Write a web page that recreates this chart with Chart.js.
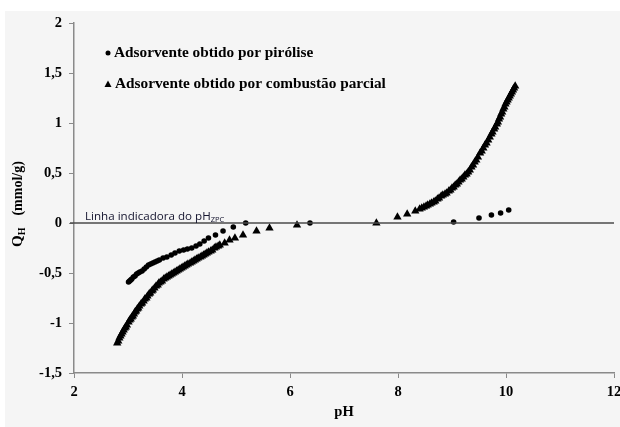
<!DOCTYPE html>
<html>
<head>
<meta charset="utf-8">
<script src="https://cdn.jsdelivr.net/npm/chart.js@4/dist/chart.umd.min.js"></script>
<style>
  body { margin: 0; background: #fff; }
  .fundo { position: absolute; left: 5px; top: 11px; width: 615px; height: 416px; background: #f5f5f5; }
  #grafico { position: absolute; left: 0; top: 0; }
</style>
</head>
<body>
<div class="fundo"></div>
<canvas id="grafico" width="620" height="427"></canvas>
<script>
// pH e Q_H
const phPirolise = [3.01, 3.03, 3.05, 3.07, 3.10, 3.13, 3.16, 3.19, 3.22, 3.26, 3.30, 3.34, 3.38, 3.42, 3.46, 3.50, 3.54, 3.58,
  3.65, 3.72, 3.80, 3.87, 3.95, 4.03, 4.10, 4.18, 4.26, 4.33, 4.41, 4.49, 4.62, 4.76, 4.95, 5.18, 6.37,
  9.03, 9.50, 9.73, 9.90, 10.05];
const qPirolise = [-0.59, -0.58, -0.57, -0.56, -0.54, -0.53, -0.51, -0.50, -0.49, -0.48, -0.46, -0.44, -0.42, -0.41, -0.40, -0.39, -0.38, -0.37,
  -0.35, -0.34, -0.32, -0.30, -0.28, -0.27, -0.26, -0.25, -0.23, -0.21, -0.18, -0.15, -0.12, -0.08, -0.04, 0.00, 0.00,
  0.01, 0.05, 0.08, 0.10, 0.13];

const phCombustao = [2.80, 2.82, 2.84, 2.86, 2.88, 2.90, 2.92, 2.94, 2.96, 2.98, 3.01, 3.03, 3.05, 3.07, 3.09, 3.11, 3.13, 3.15,
  3.17, 3.19, 3.21, 3.24, 3.26, 3.29, 3.31, 3.34, 3.36, 3.39, 3.41, 3.44, 3.46, 3.49, 3.52, 3.55, 3.57, 3.60, 3.63, 3.66,
  3.69, 3.72, 3.75, 3.78, 3.81, 3.84, 3.87, 3.90, 3.93, 3.96, 3.99, 4.02, 4.05, 4.08, 4.11, 4.15, 4.18, 4.21, 4.24, 4.27,
  4.30, 4.34, 4.37, 4.40, 4.43, 4.46, 4.49, 4.53, 4.56, 4.60, 4.63, 4.67, 4.70, 4.79, 4.88, 4.98, 5.13, 5.38, 5.62, 6.13,
  7.60, 7.99, 8.17, 8.32,
  8.40, 8.44, 8.48, 8.52, 8.55, 8.59, 8.62, 8.66, 8.69, 8.73, 8.76, 8.80, 8.83, 8.87, 8.90, 8.94, 8.97, 9.00, 9.03, 9.06,
  9.09, 9.12, 9.15, 9.18, 9.21, 9.24, 9.27, 9.30, 9.33, 9.36, 9.39, 9.42, 9.45, 9.48, 9.52, 9.55, 9.58, 9.61, 9.64, 9.67,
  9.70, 9.73, 9.75, 9.78, 9.80, 9.83, 9.85, 9.87, 9.89, 9.91, 9.93, 9.95, 9.97, 9.99, 10.01, 10.03, 10.05, 10.07, 10.09,
  10.11, 10.13, 10.15, 10.17];
const qCombustao = [-1.20, -1.18, -1.15, -1.13, -1.11, -1.09, -1.07, -1.05, -1.04, -1.02, -0.99, -0.97, -0.96, -0.94, -0.93, -0.91, -0.89, -0.88,
  -0.86, -0.85, -0.83, -0.81, -0.80, -0.78, -0.76, -0.75, -0.73, -0.71, -0.70, -0.68, -0.67, -0.65, -0.63, -0.62, -0.60, -0.59, -0.58, -0.56,
  -0.55, -0.54, -0.53, -0.52, -0.51, -0.50, -0.49, -0.48, -0.47, -0.46, -0.45, -0.44, -0.43, -0.42, -0.41, -0.40, -0.39, -0.38, -0.37, -0.36,
  -0.35, -0.34, -0.33, -0.32, -0.31, -0.30, -0.29, -0.28, -0.27, -0.25, -0.24, -0.23, -0.22, -0.20, -0.17, -0.15, -0.12, -0.08, -0.05, -0.02,
  0.00, 0.06, 0.09, 0.12,
  0.14, 0.15, 0.16, 0.17, 0.18, 0.19, 0.20, 0.21, 0.22, 0.24, 0.25, 0.27, 0.28, 0.29, 0.30, 0.32, 0.33, 0.35, 0.36, 0.38,
  0.39, 0.41, 0.43, 0.44, 0.46, 0.48, 0.49, 0.51, 0.53, 0.56, 0.58, 0.61, 0.63, 0.66, 0.70, 0.72, 0.75, 0.78, 0.80, 0.83,
  0.86, 0.89, 0.91, 0.94, 0.96, 0.99, 1.01, 1.04, 1.06, 1.09, 1.11, 1.14, 1.16, 1.19, 1.21, 1.23, 1.25, 1.27, 1.29,
  1.31, 1.33, 1.35, 1.37];

const legendas = ['Adsorvente obtido por pirólise', 'Adsorvente obtido por combustão parcial'];
const xMin = 2, xMax = 12, xPasso = 2;
const yMin = -1.5, yMax = 2, yPasso = 0.5;

const serif = '"Liberation Serif", "Times New Roman", serif';
const cinza = '#8a8a8a';

function pontos(xs, ys) {
  return xs.map(function (x, i) { return { x: x, y: ys[i] }; });
}

// linha do pH zpc, titulo do eixo y e legenda
const extras = {
  id: 'extras',
  afterDatasetsDraw(chart) {
    const ctx = chart.ctx;
    const area = chart.chartArea;
    const y0 = chart.scales.y.getPixelForValue(0);
    ctx.save();
    ctx.strokeStyle = '#4a4a4a';
    ctx.lineWidth = 1.5;
    ctx.beginPath();
    ctx.moveTo(area.left - 4, y0);
    ctx.lineTo(area.right, y0);
    ctx.stroke();

    ctx.fillStyle = '#14142e';
    ctx.font = '11.6px "Open Sans", "DejaVu Sans", sans-serif';
    ctx.textBaseline = 'alphabetic';
    ctx.fillText('Linha indicadora do pH', 85, y0 - 3);
    let w = ctx.measureText('Linha indicadora do pH').width;
    ctx.font = '7.5px "Open Sans", "DejaVu Sans", sans-serif';
    ctx.fillText('ZPC', 85 + w, y0 - 1);

    // titulo do eixo y
    ctx.fillStyle = '#000';
    ctx.translate(22, 247);
    ctx.rotate(-Math.PI / 2);
    ctx.font = 'bold 15px ' + serif;
    ctx.fillText('Q', 0, 0);
    let wq = ctx.measureText('Q').width;
    ctx.font = 'bold 10px ' + serif;
    ctx.fillText('H', wq, 3);
    let wh = ctx.measureText('H').width;
    ctx.font = 'bold 14px ' + serif;
    ctx.fillText('(mmol/g)', wq + wh + 12, 0);
    ctx.restore();

    // legenda
    ctx.save();
    ctx.fillStyle = '#000';
    ctx.font = 'bold 15.3px ' + serif;
    ctx.textBaseline = 'middle';
    ctx.beginPath();
    ctx.arc(108, 53, 2.5, 0, Math.PI * 2);
    ctx.fill();
    ctx.fillText(legendas[0], 114, 53);
    ctx.beginPath();
    ctx.moveTo(104.5, 87);
    ctx.lineTo(108, 80.5);
    ctx.lineTo(111.5, 87);
    ctx.closePath();
    ctx.fill();
    ctx.fillText(legendas[1], 115, 84);
    ctx.restore();
  }
};

const data = {
  datasets: [{
    label: legendas[0],
    data: pontos(phPirolise, qPirolise),
    pointStyle: 'circle',
    pointRadius: 2.8,
    backgroundColor: '#000',
    borderColor: '#000',
    borderWidth: 0,
    showLine: false
  }, {
    label: legendas[1],
    data: pontos(phCombustao, qCombustao),
    pointStyle: 'triangle',
    pointRadius: 4.8,
    backgroundColor: '#000',
    borderColor: '#000',
    borderWidth: 0,
    showLine: false
  }]
};

const config = {
  type: 'scatter',
  data: data,
  options: {
    responsive: false,
    animation: false,
    layout: { padding: { top: 23, right: 6, left: 0, bottom: 0 } },
    plugins: { legend: { display: false }, tooltip: { enabled: false } },
    scales: {
      x: {
        min: xMin, max: xMax,
        afterFit: function (s) { s.height = 54; s.paddingLeft = 0; s.paddingRight = 0; },
        ticks: { stepSize: xPasso, color: '#000', padding: 6, font: { family: serif, size: 14.5, weight: 'bold' } },
        grid: { drawOnChartArea: false, color: cinza, tickLength: 5 },
        border: { color: cinza, width: 1.5 },
        title: { display: true, text: 'pH', color: '#000', padding: { top: 0, bottom: 6 }, font: { family: serif, size: 14.5, weight: 'bold' } }
      },
      y: {
        min: yMin, max: yMax,
        afterFit: function (s) { s.width = 74; s.paddingTop = 0; s.paddingBottom = 0; },
        ticks: {
          stepSize: yPasso, color: '#000', padding: 7,
          font: { family: serif, size: 14.5, weight: 'bold' },
          callback: function (v) { return String(v).replace('.', ','); }
        },
        grid: { drawOnChartArea: false, color: cinza, tickLength: 5 },
        border: { color: cinza, width: 1.5 }
      }
    }
  },
  plugins: [extras]
};

const grafico = new Chart(document.getElementById('grafico').getContext('2d'), config);
</script>
</body>
</html>
